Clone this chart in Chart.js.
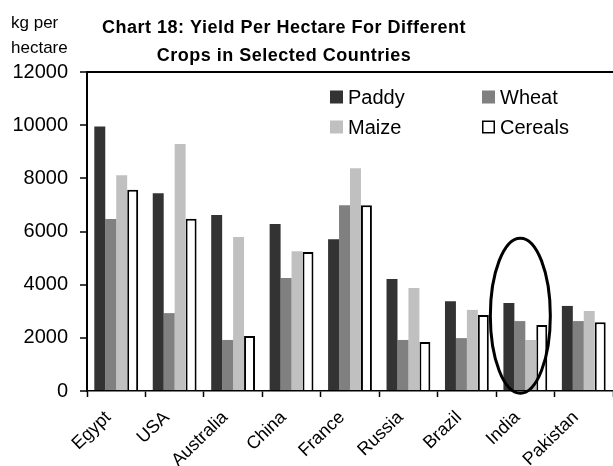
<!DOCTYPE html>
<html>
<head>
<meta charset="utf-8">
<script src="https://cdn.jsdelivr.net/npm/chart.js@4.4.0/dist/chart.umd.min.js"></script>
<style>
  html, body { margin: 0; padding: 0; background: #fff; overflow: hidden; }
</style>
</head>
<body>
<canvas id="grafico" width="613" height="466"></canvas>
<script>
const paises = ["Egypt", "USA", "Australia", "China", "France", "Russia", "Brazil", "India", "Pakistan"];
const paddy = [9950, 7440, 6620, 6280, 5710, 4210, 3380, 3310, 3200];
const wheat = [6470, 2930, 1920, 4250, 6990, 1920, 1990, 2630, 2630];
const maize = [8120, 9290, 5790, 5260, 8380, 3870, 3050, 1920, 3010];
const cereals = [7570, 6480, 2070, 5230, 6990, 1840, 2860, 2480, 2590];
const yTicks = [0, 2000, 4000, 6000, 8000, 10000, 12000];
const titulo = ["Chart 18: Yield Per Hectare For Different", "Crops in Selected Countries"];
const unidade = ["kg per", "hectare"];

const fonte = "'Liberation Sans', Arial, sans-serif";

// legenda, elipse em volta da India e titulos
const anotacoes = {
  id: "anotacoes",
  afterDraw(chart) {
    const { ctx, scales: { x, y } } = chart;
    ctx.save();
    ctx.fillStyle = "#000";
    ctx.textBaseline = "alphabetic";

    ctx.font = "bold 18px " + fonte;
    ctx.textAlign = "center";
    ctx.letterSpacing = "0.5px";
    ctx.fillText(titulo[0], 284, 33);
    ctx.fillText(titulo[1], 284, 61);

    ctx.letterSpacing = "0px";
    ctx.font = "17px " + fonte;
    ctx.textAlign = "left";
    ctx.fillText(unidade[0], 11, 28);
    ctx.fillText(unidade[1], 11, 53);

    // legenda 2x2
    ctx.font = "20px " + fonte;
    ctx.textBaseline = "middle";
    chart.data.datasets.forEach((ds, i) => {
      const lx = 330 + (i % 2) * 152;
      const ly = 97 + Math.floor(i / 2) * 30;
      ctx.fillStyle = ds.backgroundColor;
      ctx.fillRect(lx, ly - 6.5, 13, 13);
      if (ds.borderWidth) {
        ctx.strokeStyle = "#000";
        ctx.lineWidth = 1.5;
        ctx.strokeRect(lx + 0.75, ly - 5.75, 11.5, 11.5);
      }
      ctx.fillStyle = "#000";
      ctx.fillText(ds.label, lx + 18, ly + 1);
    });

    // elipse
    const cx = x.getPixelForValue(7) - 5;
    const topo = y.getPixelForValue(5750);
    const base = y.getPixelForValue(-80);
    ctx.beginPath();
    ctx.ellipse(cx, (topo + base) / 2, 30, (base - topo) / 2, 0, 0, Math.PI * 2);
    ctx.strokeStyle = "#000";
    ctx.lineWidth = 3;
    ctx.stroke();
    ctx.restore();
  }
};

new Chart(document.getElementById("grafico"), {
  type: "bar",
  data: {
    labels: paises,
    datasets: [
      { label: "Paddy", data: paddy, backgroundColor: "#333333", borderWidth: 0 },
      { label: "Wheat", data: wheat, backgroundColor: "#808080", borderWidth: 0 },
      { label: "Maize", data: maize, backgroundColor: "#c0c0c0", borderWidth: 0 },
      { label: "Cereals", data: cereals, backgroundColor: "#ffffff", borderColor: "#000000", borderWidth: 2 },
    ],
  },
  options: {
    responsive: false,
    animation: false,
    layout: { padding: { top: 72, left: 0, right: 0, bottom: 0 } },
    datasets: { bar: { categoryPercentage: 0.75, barPercentage: 1.0 } },
    plugins: {
      legend: { display: false },
      title: { display: false },
      tooltip: { enabled: false },
    },
    scales: {
      x: {
        offset: true,
        afterFit: (s) => { s.height = 75; },
        border: { color: "#000", width: 1.5 },
        grid: { drawOnChartArea: false, tickColor: "#000", tickLength: 6, tickWidth: 1.5 },
        ticks: {
          color: "#000",
          font: { family: fonte, size: 18 },
          maxRotation: 44,
          minRotation: 44,
          labelOffset: -8,
          padding: 10,
        },
      },
      y: {
        min: 0,
        max: 12000,
        afterFit: (s) => { s.width = 87; },
        afterBuildTicks: (s) => { s.ticks = yTicks.map((v) => ({ value: v })); },
        border: { color: "#000", width: 2 },
        grid: {
          color: (c) => (c.tick && c.tick.value === 12000 ? "#000" : "rgba(0,0,0,0)"),
          lineWidth: 2,
          tickColor: "#000",
          tickLength: 7,
          tickWidth: 1.5,
        },
        ticks: {
          color: "#000",
          font: { family: fonte, size: 20 },
          padding: 12,
          callback: (v) => String(v),
        },
      },
    },
  },
  plugins: [anotacoes],
});
</script>
</body>
</html>
